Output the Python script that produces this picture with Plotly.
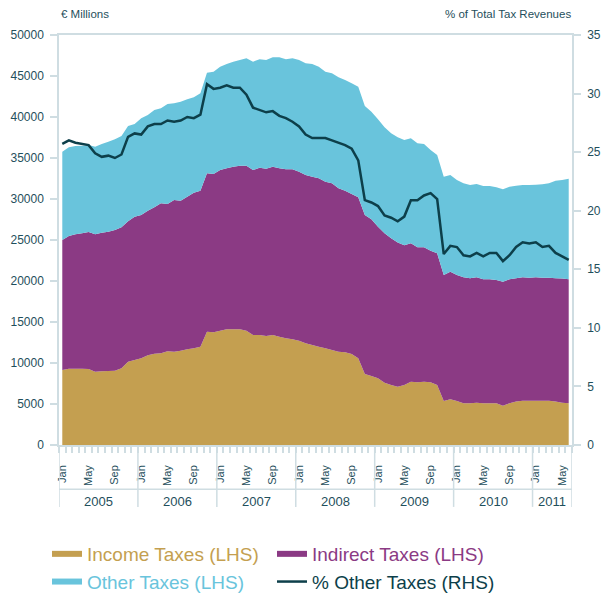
import plotly.graph_objects as go
import pandas as pd

# ---------------- data ----------------
MONTHS = pd.date_range("2005-01-01", "2011-06-01", freq="MS")
YEARS = ["2005", "2006", "2007", "2008", "2009", "2010", "2011"]

INCOME = [9150, 9300, 9300, 9300, 9270, 8940, 8980, 9020, 9070, 9350, 10160, 10370,
          10570, 10940, 11140, 11180, 11420, 11380, 11500, 11670, 11790, 11990, 13820, 13740,
          13940, 14110, 14110, 14110, 13940, 13420, 13420, 13290, 13420, 13210, 13010, 12890,
          12720, 12400, 12200, 11990, 11790, 11590, 11380, 11300, 11100, 10570, 8660, 8420,
          8130, 7600, 7320, 7110, 7320, 7720, 7640, 7720, 7640, 7320, 5370, 5570,
          5370, 5080, 5080, 5160, 5080, 5080, 5080, 4800, 5080, 5290, 5410, 5410,
          5410, 5410, 5410, 5290, 5160, 5080]

INDIRECT = [15850, 16190, 16390, 16510, 16710, 16750, 16910, 17000, 17150, 17200, 17120, 17480,
            17480, 17640, 17840, 18290, 17970, 18500, 18300, 18610, 18980, 19030, 19310, 19310,
            19600, 19630, 19830, 19960, 20130, 20120, 20400, 20410, 20520, 20530, 20610, 20730,
            20610, 20530, 20520, 20530, 20320, 20320, 19920, 19720, 19510, 19630, 19390, 19100,
            18500, 18210, 17880, 17570, 17030, 16870, 16470, 16390, 16060, 16050, 15360, 15570,
            15360, 15370, 15250, 15290, 15120, 15120, 15040, 15120, 15120, 15040, 15040, 15000,
            15040, 15000, 15000, 15040, 15130, 15120]

OTHER = [10770, 10810, 10770, 10690, 10610, 10690, 10820, 10970, 11060, 11130, 11620, 11300,
         11790, 11660, 11870, 11590, 12200, 11790, 12070, 11870, 11630, 11870, 12280, 12480,
         12600, 12720, 12810, 12880, 13080, 13210, 13210, 13250, 13340, 13540, 13410, 13530,
         13620, 13620, 13740, 13620, 13420, 13420, 13540, 13490, 13500, 13500, 13290, 13130,
         13090, 12930, 12810, 12840, 12850, 12810, 12680, 12600, 12280, 12000, 11990, 11790,
         11590, 11460, 11380, 11380, 11390, 11390, 11300, 11260, 11300, 11300, 11260, 11300,
         11300, 11380, 11500, 11910, 12030, 12280]

PCT_OTHER = [25.7, 26.0, 25.8, 25.7, 25.6, 24.9, 24.6, 24.7, 24.5, 24.8, 26.3, 26.6,
             26.5, 27.2, 27.4, 27.4, 27.7, 27.6, 27.7, 28.0, 27.9, 28.2, 30.8, 30.4,
             30.5, 30.7, 30.5, 30.5, 29.9, 28.8, 28.6, 28.4, 28.5, 28.1, 27.9, 27.6,
             27.2, 26.5, 26.2, 26.2, 26.2, 26.0, 25.8, 25.6, 25.3, 24.3, 20.9, 20.7,
             20.4, 19.6, 19.4, 19.1, 19.5, 20.9, 20.9, 21.3, 21.5, 21.0, 16.3, 17.0,
             16.9, 16.2, 16.1, 16.4, 16.1, 16.4, 16.4, 15.7, 16.2, 16.9, 17.3, 17.2,
             17.3, 16.9, 17.0, 16.4, 16.1, 15.8]

LABEL_MONTHS = [1, 5, 9]

# ---------------- styling ----------------
GOLD = "#c49f50"
PURPLE = "#8b3a84"
CYAN = "#69c4dc"
DARK = "#0d3f4a"
TXT = "#1f4f5c"
AX = "#cfdde2"
FONT = "Liberation Sans, Arial, sans-serif"

# the page places the figure 8px in from the top-left corner of the window
W, H = 601, 586

n = len(MONTHS)
x = [i + 0.5 for i in range(n)]
tickvals = [x[i] for i, m in enumerate(MONTHS) if m.month in LABEL_MONTHS]
ticktext = [m.strftime("%b") for m in MONTHS if m.month in LABEL_MONTHS]

fig = go.Figure()
fig.add_trace(go.Scatter(x=x, y=INCOME, stackgroup="tax", mode="none", fillcolor=GOLD,
                         name=f'<span style="color:{GOLD}">Income Taxes (LHS)</span>'))
fig.add_trace(go.Scatter(x=x, y=INDIRECT, stackgroup="tax", mode="none", fillcolor=PURPLE,
                         name=f'<span style="color:{PURPLE}">Indirect Taxes (LHS)</span>'))
fig.add_trace(go.Scatter(x=x, y=OTHER, stackgroup="tax", mode="none", fillcolor=CYAN,
                         name=f'<span style="color:{CYAN}">Other Taxes (LHS)</span>'))
fig.add_trace(go.Scatter(x=x, y=PCT_OTHER, yaxis="y2", mode="lines",
                         line=dict(color=DARK, width=2.5),
                         name=f'<span style="color:{DARK}">% Other Taxes (RHS)</span>'))

# year boundaries / labels in axis units
boundaries = [i for i, m in enumerate(MONTHS) if m.month == 1] + [n]
shapes = []
for b in boundaries:
    shapes.append(dict(type="line", xref="x", yref="paper", x0=b, x1=b, y0=0, y1=-0.151,
                       line=dict(color=AX, width=1.5)))
shapes.append(dict(type="line", xref="x", yref="paper", x0=0, x1=n, y0=-0.108, y1=-0.108,
                   line=dict(color=AX, width=1.5)))

annotations = []
for k, yr in enumerate(YEARS):
    a, b = boundaries[k], boundaries[k + 1]
    annotations.append(dict(text=yr, xref="x", yref="paper", x=(a + b) / 2, y=-0.139,
                            xanchor="center", yanchor="middle",
                            showarrow=False, font=dict(size=13, color=TXT)))
annotations.append(dict(text="€ Millions", xref="paper", yref="paper", x=0, y=1.051,
                        xanchor="left", yanchor="middle", showarrow=False,
                        font=dict(size=11.5, color=TXT)))
annotations.append(dict(text="% of Total Tax Revenues", xref="paper", yref="paper", x=1.002,
                        y=1.051, xanchor="right", yanchor="middle", showarrow=False,
                        font=dict(size=11.5, color=TXT)))

fig.update_layout(
    width=W, height=H,
    margin=dict(l=51, r=37, t=27, b=149, autoexpand=False),
    paper_bgcolor="white", plot_bgcolor="white",
    font=dict(family=FONT, color=TXT),
    showlegend=True,
    xaxis=dict(range=[0, n], tickmode="array", tickvals=tickvals, ticktext=ticktext,
               tickangle=-90, ticks="outside", ticklen=14, tickcolor="rgba(0,0,0,0)",
               tickfont=dict(size=11, color=TXT), showline=True, linecolor=AX, linewidth=1.5,
               mirror=True, showgrid=False, zeroline=False,
               minor=dict(tickmode="linear", tick0=0, dtick=1, ticks="outside", ticklen=6,
                          tickcolor=AX, tickwidth=1.5, showgrid=False)),
    yaxis=dict(range=[0, 50000], dtick=5000, tickformat="d", ticks="outside", ticklen=7,
               tickcolor=AX, tickwidth=1.5, showline=True, linecolor=AX, linewidth=1.5,
               showgrid=False, zeroline=False, tickfont=dict(size=12, color=TXT),
               ticklabelstandoff=4),
    yaxis2=dict(range=[0, 35], dtick=5, overlaying="y", side="right", ticks="outside",
                ticklen=7, tickcolor=AX, tickwidth=1.5, showline=True, linecolor=AX,
                linewidth=1.5, showgrid=False, zeroline=False,
                tickfont=dict(size=12, color=TXT), ticklabelstandoff=4),
    legend=dict(orientation="h", xref="container", yref="container",
                x=39 / W, xanchor="left", y=1 - 527 / H, yanchor="top",
                entrywidth=180, entrywidthmode="pixels", traceorder="normal",
                font=dict(size=19, family=FONT), itemwidth=30, bgcolor="rgba(0,0,0,0)"),
    shapes=shapes,
    annotations=annotations,
)

fig.write_html("out.html")
